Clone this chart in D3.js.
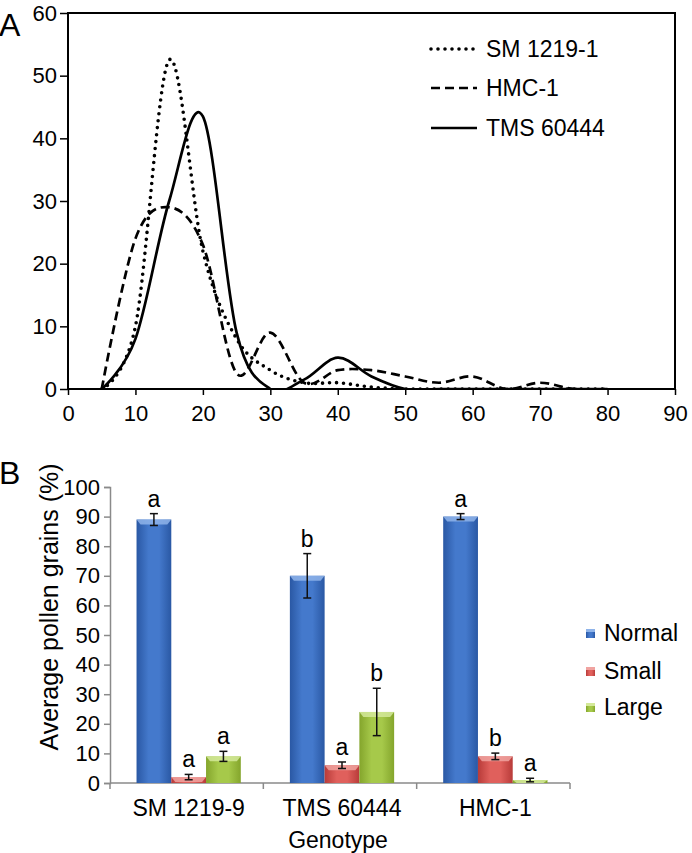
<!DOCTYPE html>
<html><head><meta charset="utf-8">
<script src="https://cdn.jsdelivr.net/npm/d3@7"></script>
<style>
body{margin:0;background:#fff;}
svg{display:block;font-family:"Liberation Sans",Arial,Helvetica,sans-serif;}
</style></head>
<body><svg id="c" width="692" height="853"></svg>
<script>
// ---- Panel A data ----
const sizeBins = [5,10,15,20,25,30,35,40,45,50,55,60,65,70,75,80];
const smValues  = [0,10,52.5,22,8,3,1,1,0.3,0,0,0,0,0,0,0];
const hmcValues = [0,24,29,23,2.5,9,1,3,3,2,1,2,0,1,0,0];
const tmsValues = [0,8,30,43.5,9,0,1.5,5,2,0,0,0,0,0,0,0];
const lineSeriesNames = ["SM 1219-1","HMC-1","TMS 60444"];
const xTicksA = [0,10,20,30,40,50,60,70,80,90];
const yTicksA = [0,10,20,30,40,50,60];

// ---- Panel B data ----
const genotypes = ["SM 1219-9","TMS 60444","HMC-1"];
const grainTypes = ["Normal","Small","Large"];
const normalMean = [89,70,90];
const normalErr  = [2,7.5,1];
const normalLetter = ["a","b","a"];
const smallMean = [2,6,9];
const smallErr  = [0.9,1.1,1.1];
const smallLetter = ["a","a","b"];
const largeMean = [9,24,1];
const largeErr  = [1.7,8,0.6];
const largeLetter = ["a","b","a"];
const yTicksB = [0,10,20,30,40,50,60,70,80,90,100];

const svg = d3.select("#c");
const FS = 22;   // tick labels
const FT = 23;   // other texts

// ================= Panel A =================
const ax = {l:68, r:675, t:13, b:389};
const xA = d3.scaleLinear().domain([0,90]).range([ax.l, ax.r]);
const yA = d3.scaleLinear().domain([0,60]).range([ax.b, ax.t]);

const gA = svg.append("g");
gA.append("text").attr("x",-1).attr("y",36).attr("font-size",32).text("A");

const xAxisA = gA.append("g").attr("transform",`translate(0,${ax.b})`)
  .call(d3.axisBottom(xA).tickValues(xTicksA).tickSize(6).tickPadding(10));
xAxisA.select(".domain").remove();
xAxisA.selectAll(".tick line").attr("stroke","#000").attr("stroke-width",1.5);
xAxisA.selectAll(".tick text").attr("font-size",FS).attr("font-family","Liberation Sans, Arial").attr("fill","#000");
const yAxisA = gA.append("g").attr("transform",`translate(${ax.l},0)`)
  .call(d3.axisLeft(yA).tickValues(yTicksA).tickSize(8).tickPadding(3));
yAxisA.select(".domain").remove();
yAxisA.selectAll(".tick line").attr("stroke","#000").attr("stroke-width",1.5);
yAxisA.selectAll(".tick text").attr("font-size",FS).attr("font-family","Liberation Sans, Arial").attr("fill","#000");

const lineGen = vals => d3.line()
  .x((d,i)=>xA(sizeBins[i])).y(d=>yA(d))
  .curve(d3.curveCardinal.tension(0))(vals);
const styles = [
  {vals:smValues, dash:"0,7", w:3.6, cap:"round"},
  {vals:hmcValues, dash:"9,5", w:2.7, cap:"butt"},
  {vals:tmsValues, dash:null, w:2.7, cap:"butt"}
];
gA.append("clipPath").attr("id","clipA").append("rect")
  .attr("x",ax.l).attr("y",ax.t-5).attr("width",ax.r-ax.l).attr("height",ax.b-ax.t+5);
styles.forEach(s=>{
  gA.append("path").attr("d",lineGen(s.vals)).attr("fill","none")
    .attr("stroke","#000").attr("stroke-width",s.w)
    .attr("stroke-dasharray",s.dash).attr("stroke-linecap",s.cap)
    .attr("clip-path","url(#clipA)");
});
gA.append("rect").attr("x",ax.l).attr("y",ax.t).attr("width",ax.r-ax.l).attr("height",ax.b-ax.t)
  .attr("fill","none").attr("stroke","#000").attr("stroke-width",2);

const legA = gA.append("g");
const legRows = [49,88,128];
styles.forEach((s,i)=>{
  legA.append("line").attr("x1",431).attr("x2",477).attr("y1",legRows[i]).attr("y2",legRows[i])
    .attr("stroke","#000").attr("stroke-width",s.w).attr("stroke-dasharray",s.dash).attr("stroke-linecap",s.cap);
  legA.append("text").attr("x",486).attr("y",legRows[i]).attr("dy","0.36em")
    .attr("font-size",FT).text(lineSeriesNames[i]);
});

// ================= Panel B =================
const bx = {l:110, r:570, t:487, b:783};
const xB = d3.scaleBand().domain(genotypes).range([bx.l,bx.r]).padding(0);
const yB = d3.scaleLinear().domain([0,100]).range([bx.b,bx.t]);
const groupW = xB.bandwidth()*0.68;
const xSub = d3.scaleBand().domain(grainTypes).range([0,groupW]).padding(0);

const gB = svg.append("g");
gB.append("text").attr("x",-1).attr("y",484).attr("font-size",32).text("B");

const defs = svg.append("defs");
const palette = {
  Normal:{edge:"#2a58a4", mid:"#4479cc", top:"#8fb4ea"},
  Small:{edge:"#b83b39", mid:"#e0605c", top:"#f0a3a0"},
  Large:{edge:"#84a52c", mid:"#a6c94a", top:"#d4e99a"}
};
grainTypes.forEach(k=>{
  const lg = defs.append("linearGradient").attr("id","g"+k).attr("x1","0").attr("x2","1").attr("y1","0").attr("y2","0");
  lg.append("stop").attr("offset","0").attr("stop-color",palette[k].edge);
  lg.append("stop").attr("offset","0.35").attr("stop-color",palette[k].mid);
  lg.append("stop").attr("offset","0.65").attr("stop-color",palette[k].mid);
  lg.append("stop").attr("offset","1").attr("stop-color",palette[k].edge);
});

const yAxisB = gB.append("g").attr("transform",`translate(${bx.l},0)`)
  .call(d3.axisLeft(yB).tickValues(yTicksB).tickSize(6).tickPadding(4));
yAxisB.select(".domain").attr("stroke","#8a8a8a").attr("stroke-width",1.5);
yAxisB.selectAll(".tick line").attr("stroke","#8a8a8a").attr("stroke-width",1.5);
yAxisB.selectAll(".tick text").attr("font-size",FS).attr("font-family","Liberation Sans, Arial").attr("fill","#000");

gB.append("line").attr("x1",bx.l).attr("x2",bx.r).attr("y1",bx.b).attr("y2",bx.b)
  .attr("stroke","#8a8a8a").attr("stroke-width",1.5);
const catEdges = genotypes.map(g=>xB(g)).concat([bx.r]);
gB.selectAll(".ctick").data(catEdges).enter().append("line")
  .attr("x1",d=>d).attr("x2",d=>d).attr("y1",bx.b).attr("y2",bx.b+6)
  .attr("stroke","#8a8a8a").attr("stroke-width",1.5);
gB.selectAll(".clab").data(genotypes).enter().append("text")
  .attr("x",d=>xB(d)+xB.bandwidth()/2+2).attr("y",816).attr("text-anchor","middle")
  .attr("font-size",FT).text(d=>d);
gB.append("text").attr("x",338).attr("y",848).attr("text-anchor","middle")
  .attr("font-size",FT).text("Genotype");
gB.append("text").attr("transform","translate(58,607) rotate(-90)").attr("text-anchor","middle")
  .attr("font-size",25).text("Average pollen grains (%)");

const seriesData = {
  Normal:{m:normalMean,e:normalErr,l:normalLetter},
  Small:{m:smallMean,e:smallErr,l:smallLetter},
  Large:{m:largeMean,e:largeErr,l:largeLetter}
};
genotypes.forEach((g,gi)=>{
  const gx = xB(g) + (xB.bandwidth()-groupW)/2 + 2;
  grainTypes.forEach(k=>{
    const v = seriesData[k].m[gi], e = seriesData[k].e[gi];
    const x0 = gx + xSub(k), w = xSub.bandwidth();
    const yTop = yB(v);
    gB.append("rect").attr("x",x0).attr("y",yTop).attr("width",w).attr("height",bx.b-yTop)
      .attr("fill",`url(#g${k})`);
    const bh = Math.min(5, bx.b-yTop);
    gB.append("path")
      .attr("d",`M${x0},${yTop}L${x0+w},${yTop}L${x0+w-4},${yTop+bh}L${x0+4},${yTop+bh}Z`)
      .attr("fill",palette[k].top).attr("opacity",0.85);
    const cx = x0 + w/2;
    const eg = gB.append("g").attr("stroke","#111").attr("stroke-width",1.5);
    eg.append("line").attr("x1",cx).attr("x2",cx).attr("y1",yB(v+e)).attr("y2",yB(v-e));
    eg.append("line").attr("x1",cx-4).attr("x2",cx+4).attr("y1",yB(v+e)).attr("y2",yB(v+e));
    eg.append("line").attr("x1",cx-4).attr("x2",cx+4).attr("y1",yB(v-e)).attr("y2",yB(v-e));
    gB.append("text").attr("x",cx).attr("y",yB(v+e)-7).attr("text-anchor","middle")
      .attr("font-size",FT).text(seriesData[k].l[gi]);
  });
});

const legB = [633,671,707];
grainTypes.forEach((k,i)=>{
  gB.append("rect").attr("x",586).attr("y",legB[i]-4).attr("width",9).attr("height",9)
    .attr("fill",`url(#g${k})`);
  gB.append("rect").attr("x",586).attr("y",legB[i]-4).attr("width",9).attr("height",3)
    .attr("fill",palette[k].top);
  gB.append("text").attr("x",604).attr("y",legB[i]).attr("dy","0.36em")
    .attr("font-size",FT).text(k);
});
</script></body></html>
